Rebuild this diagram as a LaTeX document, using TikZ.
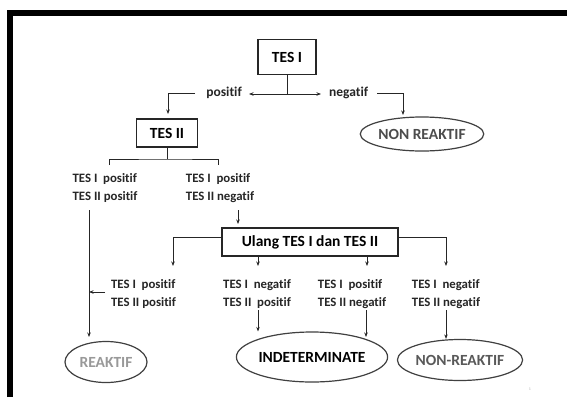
\documentclass[tikz,border=0pt]{standalone}
\usepackage{fontspec}
\setmainfont{Carlito}[Ligatures={NoCommon,NoRequired,NoContextual}]
\usetikzlibrary{arrows.meta,shapes.geometric}
\begin{document}
\begin{tikzpicture}[x=1pt,y=-1pt,
  arr/.style={-{Stealth[length=4.5pt,width=3.5pt]}},
  ln/.style={line width=1pt,draw=black!85},
  boxn/.style={draw=black!85,line width=1.4pt,rectangle,inner sep=0pt,font=\fontsize{15.5}{18}\selectfont\bfseries},
  ell/.style={draw=black!75,line width=1.2pt,ellipse,inner sep=0pt,font=\fontsize{15.5}{18}\selectfont\bfseries},
  lab/.style={inner sep=1pt,font=\fontsize{13.5}{16}\selectfont\bfseries,text=black!85},
  two/.style={inner sep=1pt,align=left,font=\fontsize{12.8}{18}\selectfont\bfseries,text=black!85}]
\useasboundingbox (0,0) rectangle (567,397);
\fill[white] (0,0) rectangle (567,397);
\draw[line width=6pt,line join=miter] (10,397) -- (10,13) -- (567,13);
% top
\node[boxn,minimum width=58pt,minimum height=35pt] (t1) at (287,57) {TES I};
\coordinate (j1) at (287,94);
\node[lab,anchor=east] (pos) at (243,93) {positif};
\node[lab,anchor=west] (neg) at (328,93) {negatif};
\coordinate (posa) at (249,94);
\coordinate (nega) at (321,94);
\draw[ln] (t1.south) -- (j1);
\draw[ln,arr] (j1) -- (posa);
\draw[ln,arr] (j1) -- (nega);
\node[boxn,minimum width=61pt,minimum height=28pt] (t2) at (167,133) {TES II};
\node[ell,minimum width=121pt,minimum height=34pt,text=black!70] (nr) at (422,134) {NON REAKTIF};
\coordinate (t2in) at (168,114);
\coordinate (nrin) at (403,115);
\coordinate (poso) at (195,93);
\coordinate (nego) at (377,93);
\draw[ln,arr] (poso) -| (t2in);
\draw[ln,arr] (nego) -| (nrin);
% TES II branch
\coordinate (b2) at (167,159);
\coordinate (b2l) at (109,165);
\coordinate (b2r) at (218,165);
\draw[ln] (t2.south) -- (b2);
\draw[ln] (b2l) |- (b2) -| (b2r);
\node[two] (l1) at (105,188) {TES I\ \ positif\\TES II positif};
\node[two] (r1) at (220,188) {TES I\ \ positif\\TES II negatif};
% ulang
\node[boxn,minimum width=176pt,minimum height=28pt] (ul) at (310,242) {Ulang TES I dan TES II};
\coordinate (r1o) at (238,210);
\coordinate (ulin) at (238,224);
\draw[ln,arr] (r1o) -- (ulin);
\coordinate (ula) at (173,266);
\coordinate (ulb) at (258,266);
\coordinate (ulc) at (367,266);
\coordinate (uld) at (446,266);
\draw[ln,arr] ([yshift=4.5pt]ul.west) -| (ula);
\draw[ln,arr] ([yshift=4.5pt]ul.east) -| (uld);
\draw[ln,arr] (ul.south -| ulb) -- (ulb);
\draw[ln,arr] (ul.south -| ulc) -- (ulc);
% bottom texts
\node[two] (q1) at (143.5,294) {TES I\ \ positif\\TES II positif};
\node[two] (q2) at (257,294) {TES I\ \ negatif\\TES II\ \ positif};
\node[two] (q3) at (352,294) {TES I\ \ positif\\TES II negatif};
\node[two] (q4) at (446,294) {TES I\ \ negatif\\TES II negatif};
% ellipses
\node[ell,minimum width=82pt,minimum height=41pt,text=black!40] (re) at (106,362) {REAKTIF};
\node[ell,minimum width=150pt,minimum height=50pt,text=black] (in) at (312,357) {INDETERMINATE};
\node[ell,minimum width=117pt,minimum height=41pt,text=black!65] (nr2) at (460,360) {NON-REAKTIF};
% long line to reaktif
\coordinate (l1o) at (89,210);
\coordinate (rein) at (89,337);
\draw[ln,arr] (l1o) -- (rein);
\coordinate (q1t) at (89,292);
\coordinate (q1s) at (105,292);
\draw[ln,arr] (q1s) -- (q1t);
\coordinate (q2o) at (258,310);
\coordinate (q3o) at (366,310);
\coordinate (q4o) at (446,310);
\draw[ln,arr] (q2o) -- (q2o |- in.north);
\draw[ln,arr] (q3o) -- (366,337);
\draw[ln,arr] (q4o) -- (q4o |- nr2.north);
\node[font=\fontsize{4}{4}\selectfont,text=black!30,inner sep=0pt] (pg) at (530,389) {1};
\end{tikzpicture}
\end{document}
